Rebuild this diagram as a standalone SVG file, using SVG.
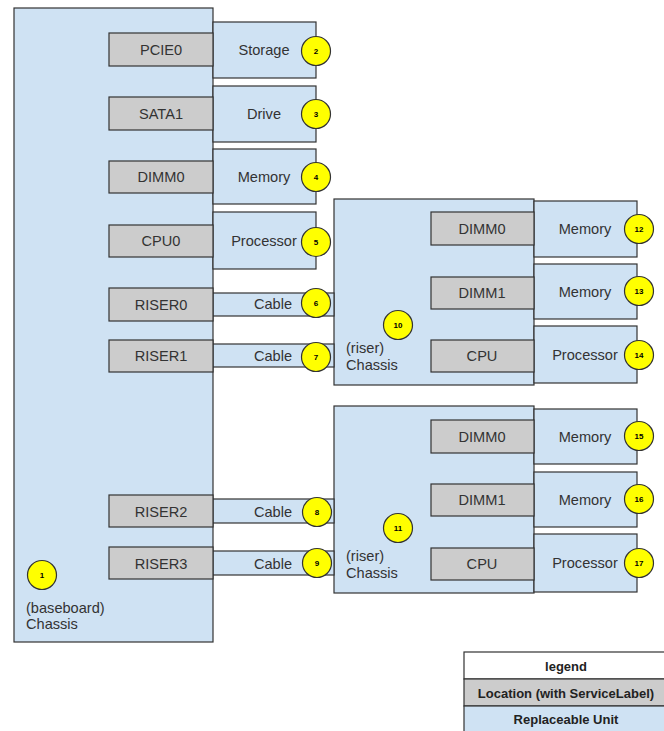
<svg xmlns="http://www.w3.org/2000/svg" width="664" height="731" viewBox="0 0 664 731">
  <style>
    .unit { fill: #cfe2f3; stroke: #333333; stroke-width: 1.2; }
    .loc { fill: #cccccc; stroke: #333333; stroke-width: 1.2; }
    .plain { fill: #ffffff; stroke: #333333; stroke-width: 1.2; }
    .badge { fill: #ffff00; stroke: #333333; stroke-width: 1.2; }
    text { font-family: "Liberation Sans", Arial, sans-serif; fill: #333333; }
    .lbl { font-size: 14.6px; text-anchor: middle; dominant-baseline: central; }
    .note { font-size: 14.6px; }
    .num { font-size: 8px; font-weight: bold; text-anchor: middle; dominant-baseline: central; fill: #000000; }
    .leg { font-size: 13px; font-weight: bold; text-anchor: middle; dominant-baseline: central; fill: #222222; }
  </style>
  <rect x="0" y="0" width="664" height="731" fill="#ffffff"/>

  <!-- baseboard chassis -->
  <g id="baseboard">
    <rect class="unit" x="14" y="8" width="199" height="634"/>
    <text class="note" x="26" y="613">(baseboard)</text>
    <text class="note" x="26" y="629">Chassis</text>
    <circle class="badge" cx="42" cy="575" r="14.5"/>
    <text class="num" x="42" y="575">1</text>
  </g>

  <!-- baseboard slots and their units -->
  <g id="storage">
    <rect class="unit" x="213" y="22" width="103" height="56"/>
    <text class="lbl" x="264" y="50">Storage</text>
    <circle class="badge" cx="316" cy="51" r="14.5"/>
    <text class="num" x="316" y="51">2</text>
  </g>
  <g id="pcie0">
    <rect class="loc" x="109" y="33" width="104" height="33"/>
    <text class="lbl" x="161" y="50">PCIE0</text>
  </g>

  <g id="drive">
    <rect class="unit" x="213" y="86" width="103" height="56"/>
    <text class="lbl" x="264" y="114">Drive</text>
    <circle class="badge" cx="316" cy="114" r="14.5"/>
    <text class="num" x="316" y="114">3</text>
  </g>
  <g id="sata1">
    <rect class="loc" x="109" y="97" width="104" height="33"/>
    <text class="lbl" x="161" y="114">SATA1</text>
  </g>

  <g id="memory0">
    <rect class="unit" x="213" y="149" width="103" height="55"/>
    <text class="lbl" x="264" y="177">Memory</text>
    <circle class="badge" cx="316" cy="177" r="14.5"/>
    <text class="num" x="316" y="177">4</text>
  </g>
  <g id="dimm0">
    <rect class="loc" x="109" y="161" width="104" height="32"/>
    <text class="lbl" x="161" y="177">DIMM0</text>
  </g>

  <g id="processor0">
    <rect class="unit" x="213" y="212" width="103" height="57"/>
    <text class="lbl" x="264" y="241">Processor</text>
    <circle class="badge" cx="316" cy="242" r="14.5"/>
    <text class="num" x="316" y="242">5</text>
  </g>
  <g id="cpu0">
    <rect class="loc" x="109" y="225" width="104" height="32"/>
    <text class="lbl" x="161" y="241">CPU0</text>
  </g>

  <!-- riser chassis (upper) -->
  <g id="riser-a">
    <rect class="unit" x="334" y="199" width="200" height="186"/>
    <text class="note" x="346" y="353">(riser)</text>
    <text class="note" x="346" y="370">Chassis</text>
    <circle class="badge" cx="398" cy="325" r="14.5"/>
    <text class="num" x="398" y="325">10</text>
  </g>
  <g id="memory-a0">
    <rect class="unit" x="534" y="201" width="103" height="56"/>
    <text class="lbl" x="585" y="229">Memory</text>
    <circle class="badge" cx="639" cy="229" r="14.5"/>
    <text class="num" x="639" y="229">12</text>
  </g>
  <g id="dimm-a0">
    <rect class="loc" x="431" y="212" width="103" height="33"/>
    <text class="lbl" x="482" y="229">DIMM0</text>
  </g>
  <g id="memory-a1">
    <rect class="unit" x="534" y="264" width="103" height="55"/>
    <text class="lbl" x="585" y="292">Memory</text>
    <circle class="badge" cx="639" cy="291" r="14.5"/>
    <text class="num" x="639" y="291">13</text>
  </g>
  <g id="dimm-a1">
    <rect class="loc" x="431" y="277" width="103" height="32"/>
    <text class="lbl" x="482" y="293">DIMM1</text>
  </g>
  <g id="processor-a">
    <rect class="unit" x="534" y="326" width="103" height="57"/>
    <text class="lbl" x="585" y="355">Processor</text>
    <circle class="badge" cx="639" cy="355" r="14.5"/>
    <text class="num" x="639" y="355">14</text>
  </g>
  <g id="cpu-a">
    <rect class="loc" x="431" y="340" width="103" height="32"/>
    <text class="lbl" x="482" y="356">CPU</text>
  </g>

  <!-- riser chassis (lower) -->
  <g id="riser-b">
    <rect class="unit" x="334" y="406" width="200" height="187"/>
    <text class="note" x="346" y="561">(riser)</text>
    <text class="note" x="346" y="578">Chassis</text>
    <circle class="badge" cx="398" cy="528" r="14.5"/>
    <text class="num" x="398" y="528">11</text>
  </g>
  <g id="memory-b0">
    <rect class="unit" x="534" y="409" width="103" height="55"/>
    <text class="lbl" x="585" y="437">Memory</text>
    <circle class="badge" cx="639" cy="436" r="14.5"/>
    <text class="num" x="639" y="436">15</text>
  </g>
  <g id="dimm-b0">
    <rect class="loc" x="431" y="420" width="103" height="33"/>
    <text class="lbl" x="482" y="437">DIMM0</text>
  </g>
  <g id="memory-b1">
    <rect class="unit" x="534" y="472" width="103" height="55"/>
    <text class="lbl" x="585" y="500">Memory</text>
    <circle class="badge" cx="639" cy="499" r="14.5"/>
    <text class="num" x="639" y="499">16</text>
  </g>
  <g id="dimm-b1">
    <rect class="loc" x="431" y="484" width="103" height="32"/>
    <text class="lbl" x="482" y="500">DIMM1</text>
  </g>
  <g id="processor-b">
    <rect class="unit" x="534" y="534" width="103" height="58"/>
    <text class="lbl" x="585" y="563">Processor</text>
    <circle class="badge" cx="639" cy="563" r="14.5"/>
    <text class="num" x="639" y="563">17</text>
  </g>
  <g id="cpu-b">
    <rect class="loc" x="431" y="548" width="103" height="32"/>
    <text class="lbl" x="482" y="564">CPU</text>
  </g>

  <!-- cables between baseboard risers and riser chassis -->
  <g id="connectors">
    <g id="cable0">
      <rect class="unit" x="213" y="293" width="121" height="23"/>
      <text class="lbl" x="273" y="304">Cable</text>
      <circle class="badge" cx="316" cy="303" r="14.5"/>
      <text class="num" x="316" y="303">6</text>
    </g>
    <g id="cable1">
      <rect class="unit" x="213" y="344" width="121" height="23"/>
      <text class="lbl" x="273" y="356">Cable</text>
      <circle class="badge" cx="316" cy="357" r="14.5"/>
      <text class="num" x="316" y="357">7</text>
    </g>
    <g id="cable2">
      <rect class="unit" x="213" y="499" width="121" height="24"/>
      <text class="lbl" x="273" y="512">Cable</text>
      <circle class="badge" cx="317" cy="512" r="14.5"/>
      <text class="num" x="317" y="512">8</text>
    </g>
    <g id="cable3">
      <rect class="unit" x="213" y="551" width="121" height="24"/>
      <text class="lbl" x="273" y="564">Cable</text>
      <circle class="badge" cx="317" cy="563" r="14.5"/>
      <text class="num" x="317" y="563">9</text>
    </g>
  </g>

  <g id="riser0">
    <rect class="loc" x="109" y="288" width="104" height="33"/>
    <text class="lbl" x="161" y="305">RISER0</text>
  </g>
  <g id="riser1">
    <rect class="loc" x="109" y="340" width="104" height="32"/>
    <text class="lbl" x="161" y="356">RISER1</text>
  </g>
  <g id="riser2">
    <rect class="loc" x="109" y="495" width="104" height="32"/>
    <text class="lbl" x="161" y="512">RISER2</text>
  </g>
  <g id="riser3">
    <rect class="loc" x="109" y="547" width="104" height="32"/>
    <text class="lbl" x="161" y="564">RISER3</text>
  </g>

  <!-- legend -->
  <g id="legend">
    <rect class="plain" x="464" y="652" width="205" height="27"/>
    <text class="leg" x="566" y="666">legend</text>
    <rect class="loc" x="464" y="679" width="205" height="27"/>
    <text class="leg" x="566" y="693">Location (with ServiceLabel)</text>
    <rect class="unit" x="464" y="706" width="205" height="30"/>
    <text class="leg" x="566" y="719">Replaceable Unit</text>
  </g>
</svg>
